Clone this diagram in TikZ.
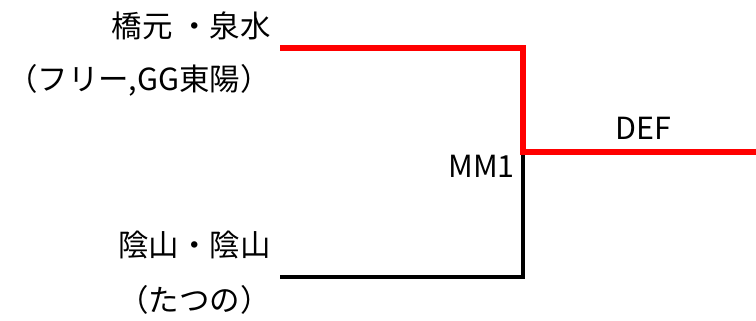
\documentclass[tikz,border=0pt]{standalone}
\usepackage{fontspec}
\setmainfont{Noto Sans CJK JP}
\usetikzlibrary{positioning}
\begin{document}
\begin{tikzpicture}[x=0.03cm, y=-0.03cm]
\tikzstyle{player}=[inner sep=0pt, anchor=east, font=\fontsize{26}{31}\selectfont]
\tikzstyle{label}=[inner sep=0pt, font=\fontsize{26}{31}\selectfont]
\tikzstyle{winner}=[red, line width=4.8pt]
\tikzstyle{loser}=[black, line width=2.8pt]
\useasboundingbox (0,0) rectangle (756,321);

\node (A1) [player] at (271,26) {橋元 ・泉水};
\node (A2) [player] at (271,80) {（フリー,GG東陽）};
\node (B1) [player] at (271,245) {陰山・陰山};
\node (B2) [player] at (271,300) {（たつの）};
\node (M) [player] at (515,166) {MM1};
\node (W) [label] at (643,128) {DEF};

\coordinate (ea) at (280,48);
\coordinate (eb) at (280,277);
\coordinate (j) at (523,152);
\coordinate (out) at (756,152);

\draw [loser] (eb) -| (j);
\draw [winner] (ea) -| (j) -- (out);

\end{tikzpicture}
\end{document}
